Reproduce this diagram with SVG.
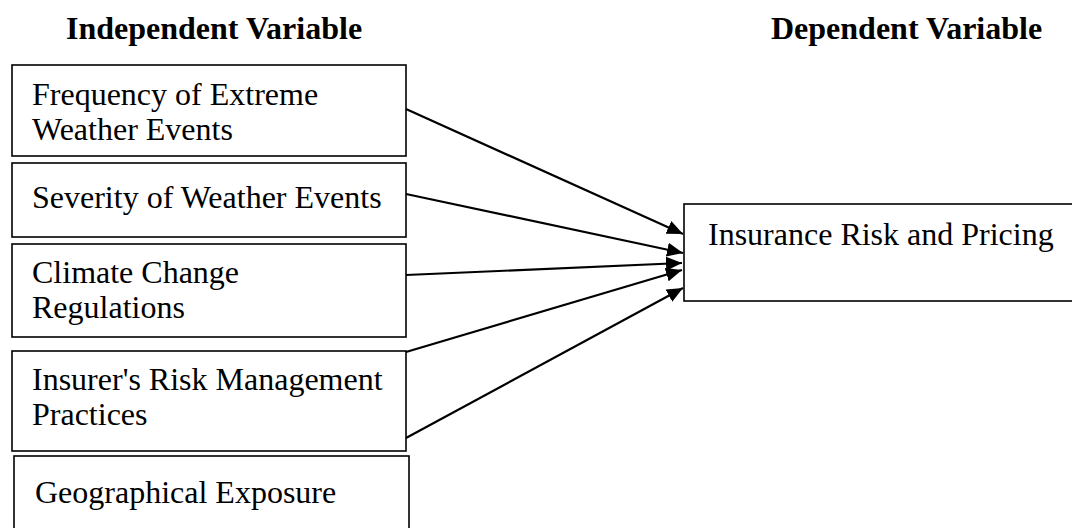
<svg xmlns="http://www.w3.org/2000/svg" width="1072" height="528" viewBox="0 0 1072 528">
<style>
.box{fill:#fff;stroke:#000;stroke-width:1.6}
.t{font-family:"Liberation Serif","Times New Roman",serif;font-size:32px;fill:#000}
.h{font-family:"Liberation Serif","Times New Roman",serif;font-size:32px;font-weight:bold;fill:#000}
.c{stroke:#000;stroke-width:2.2;fill:none;marker-end:url(#ah)}
</style>
<defs>
<marker id="ah" markerUnits="userSpaceOnUse" markerWidth="16" markerHeight="14" refX="16" refY="7" orient="auto">
<path d="M0,0 L16,7 L0,14 z" fill="#000"/>
</marker>
</defs>
<rect width="1072" height="528" fill="#fff"/>
<text class="h" x="66" y="39">Independent Variable</text>
<text class="h" x="771" y="39">Dependent Variable</text>
<g id="n1"><rect class="box" x="12" y="65" width="394" height="91"/><text class="t" x="32" y="105">Frequency of Extreme</text><text class="t" x="32" y="140">Weather Events</text></g>
<g id="n2"><rect class="box" x="12" y="163" width="394" height="74"/><text class="t" x="32" y="208">Severity of Weather Events</text></g>
<g id="n3"><rect class="box" x="12" y="244" width="394" height="93"/><text class="t" x="32" y="283">Climate Change</text><text class="t" x="32" y="318">Regulations</text></g>
<g id="n4"><rect class="box" x="12" y="351" width="394" height="100"/><text class="t" x="32" y="390">Insurer's Risk Management</text><text class="t" x="32" y="425">Practices</text></g>
<g id="n5"><rect class="box" x="14" y="456" width="395" height="76"/><text class="t" x="35" y="503">Geographical Exposure</text></g>
<g id="n6"><rect class="box" x="684" y="204" width="395" height="97"/><text class="t" x="708" y="245">Insurance Risk and Pricing</text></g>
<g id="connectors">
<line class="c" x1="406" y1="109" x2="683" y2="234"/>
<line class="c" x1="406" y1="194" x2="683" y2="253"/>
<line class="c" x1="406" y1="275" x2="682" y2="263"/>
<line class="c" x1="406" y1="352" x2="682" y2="270"/>
<line class="c" x1="406" y1="438" x2="683" y2="288"/>
</g>
</svg>
